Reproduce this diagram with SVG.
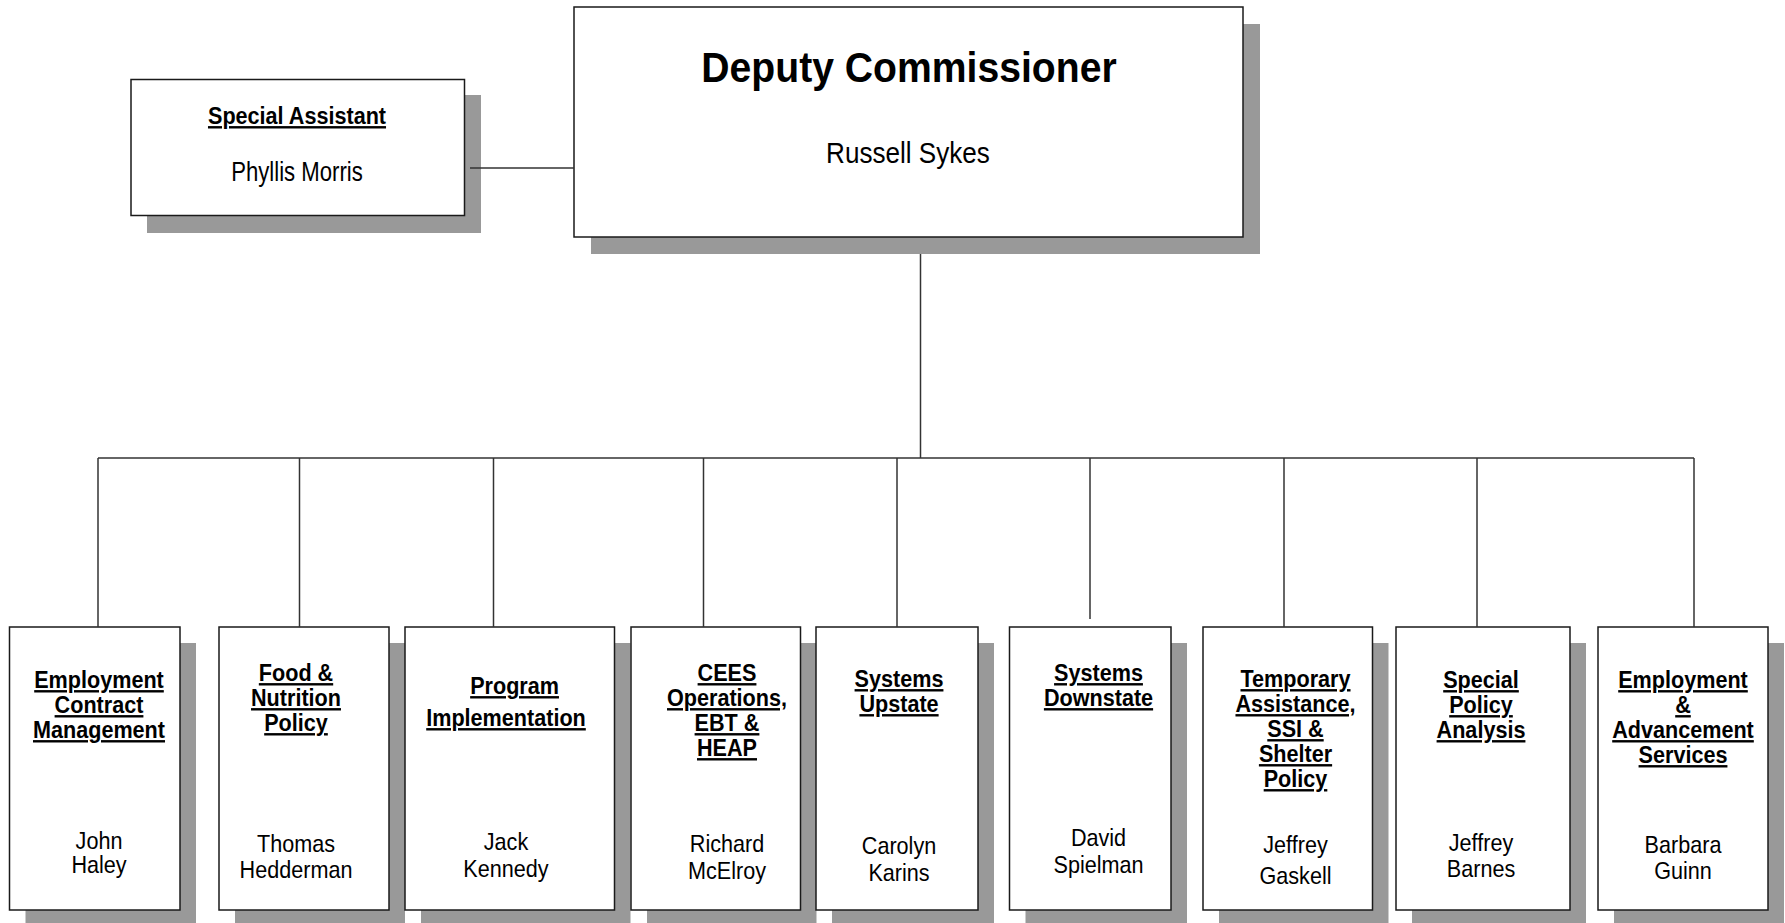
<svg xmlns="http://www.w3.org/2000/svg" width="1785" height="923" viewBox="0 0 1785 923">
<style>
.bg{fill:#ffffff}
.shadow{fill:#999999}
.box{fill:#ffffff;stroke:#1a1a1a;stroke-width:1.5}
.conn{fill:none;stroke:#333333;stroke-width:1.5}
text{font-family:"Liberation Sans",Arial,Helvetica,sans-serif;fill:#000000;text-anchor:middle}
.t{font-size:24px;font-weight:bold;text-decoration:underline}
.n{font-size:24px}
</style>
<rect class="bg" x="0" y="0" width="1785" height="923"/>

<g id="node-special-assistant">
  <rect class="shadow" x="147" y="95" width="334" height="138"/>
  <rect class="box" x="131" y="79.5" width="333.5" height="136"/>
  <g transform="translate(297 0) scale(0.9 1)">
    <text class="t" y="124">Special Assistant</text>
  </g>
  <g transform="translate(297 0) scale(0.82 1)">
    <text class="n" y="181" style="font-size:27px">Phyllis Morris</text>
  </g>
</g>

<g id="node-deputy-commissioner">
  <rect class="shadow" x="591" y="24" width="669" height="230"/>
  <rect class="box" x="574" y="7" width="669" height="230"/>
  <g transform="translate(909 0) scale(0.91 1)">
    <text y="82" style="font-size:43px;font-weight:bold">Deputy Commissioner</text>
  </g>
  <g transform="translate(908 0) scale(0.9 1)">
    <text y="163" style="font-size:29px">Russell Sykes</text>
  </g>
</g>

<g id="node-employment-contract">
  <rect class="shadow" x="25.5" y="643" width="170.5" height="283"/>
  <rect class="box" x="9.5" y="627" width="170.5" height="283"/>
  <g transform="translate(99 0) scale(0.9 1)">
    <text class="t" y="688">Employment</text>
    <text class="t" y="713">Contract</text>
    <text class="t" y="738">Management</text>
    <text class="n" y="849">John</text>
    <text class="n" y="873">Haley</text>
  </g>
</g>

<g id="node-food-nutrition">
  <rect class="shadow" x="235" y="643" width="170" height="283"/>
  <rect class="box" x="219" y="627" width="170" height="283"/>
  <g transform="translate(296 0) scale(0.9 1)">
    <text class="t" y="681">Food &amp;</text>
    <text class="t" y="706">Nutrition</text>
    <text class="t" y="731">Policy</text>
    <text class="n" y="852">Thomas</text>
    <text class="n" y="878">Hedderman</text>
  </g>
</g>

<g id="node-program-implementation">
  <rect class="shadow" x="421" y="643" width="209.5" height="283"/>
  <rect class="box" x="405" y="627" width="209.5" height="283"/>
  <g transform="translate(506 0) scale(0.9 1)">
    <text class="t" y="694" x="9.5">Program</text>
    <text class="t" y="726">Implementation</text>
    <text class="n" y="850">Jack</text>
    <text class="n" y="877">Kennedy</text>
  </g>
</g>

<g id="node-cees">
  <rect class="shadow" x="647" y="643" width="169.5" height="283"/>
  <rect class="box" x="631" y="627" width="169.5" height="283"/>
  <g transform="translate(727 0) scale(0.9 1)">
    <text class="t" y="681">CEES</text>
    <text class="t" y="706">Operations,</text>
    <text class="t" y="731">EBT &amp;</text>
    <text class="t" y="756">HEAP</text>
    <text class="n" y="852">Richard</text>
    <text class="n" y="879">McElroy</text>
  </g>
</g>

<g id="node-systems-upstate">
  <rect class="shadow" x="832" y="643" width="162" height="283"/>
  <rect class="box" x="816" y="627" width="162" height="283"/>
  <g transform="translate(899 0) scale(0.9 1)">
    <text class="t" y="687">Systems</text>
    <text class="t" y="712">Upstate</text>
    <text class="n" y="854">Carolyn</text>
    <text class="n" y="881">Karins</text>
  </g>
</g>

<g id="node-systems-downstate">
  <rect class="shadow" x="1025.5" y="643" width="161.5" height="283"/>
  <rect class="box" x="1009.5" y="627" width="161.5" height="283"/>
  <g transform="translate(1098.5 0) scale(0.9 1)">
    <text class="t" y="681">Systems</text>
    <text class="t" y="706">Downstate</text>
    <text class="n" y="846">David</text>
    <text class="n" y="873">Spielman</text>
  </g>
</g>

<g id="node-temporary-assistance">
  <rect class="shadow" x="1219" y="643" width="169.5" height="283"/>
  <rect class="box" x="1203" y="627" width="169.5" height="283"/>
  <g transform="translate(1295.5 0) scale(0.9 1)">
    <text class="t" y="687">Temporary</text>
    <text class="t" y="712">Assistance,</text>
    <text class="t" y="737">SSI &amp;</text>
    <text class="t" y="762">Shelter</text>
    <text class="t" y="787">Policy</text>
    <text class="n" y="853">Jeffrey</text>
    <text class="n" y="884">Gaskell</text>
  </g>
</g>

<g id="node-special-policy">
  <rect class="shadow" x="1412" y="643" width="174" height="283"/>
  <rect class="box" x="1396" y="627" width="174" height="283"/>
  <g transform="translate(1481 0) scale(0.9 1)">
    <text class="t" y="688">Special</text>
    <text class="t" y="713">Policy</text>
    <text class="t" y="738">Analysis</text>
    <text class="n" y="851">Jeffrey</text>
    <text class="n" y="877">Barnes</text>
  </g>
</g>

<g id="node-employment-advancement">
  <rect class="shadow" x="1614" y="643" width="170" height="283"/>
  <rect class="box" x="1598" y="627" width="170" height="283"/>
  <g transform="translate(1683 0) scale(0.9 1)">
    <text class="t" y="688">Employment</text>
    <text class="t" y="713">&amp;</text>
    <text class="t" y="738">Advancement</text>
    <text class="t" y="763">Services</text>
    <text class="n" y="853">Barbara</text>
    <text class="n" y="879">Guinn</text>
  </g>
</g>

<g id="connectors">
  <path class="conn" d="M470 168 H574"/>
  <path class="conn" d="M920.5 254 V458"/>
  <path class="conn" d="M98 458 H1694"/>
  <path class="conn" d="M98 458 V627"/>
  <path class="conn" d="M299.5 458 V627"/>
  <path class="conn" d="M493.5 458 V627"/>
  <path class="conn" d="M703.5 458 V627"/>
  <path class="conn" d="M897 458 V627"/>
  <path class="conn" d="M1090 458 V619"/>
  <path class="conn" d="M1284 458 V627"/>
  <path class="conn" d="M1477 458 V627"/>
  <path class="conn" d="M1694 458 V627"/>
</g>
</svg>
